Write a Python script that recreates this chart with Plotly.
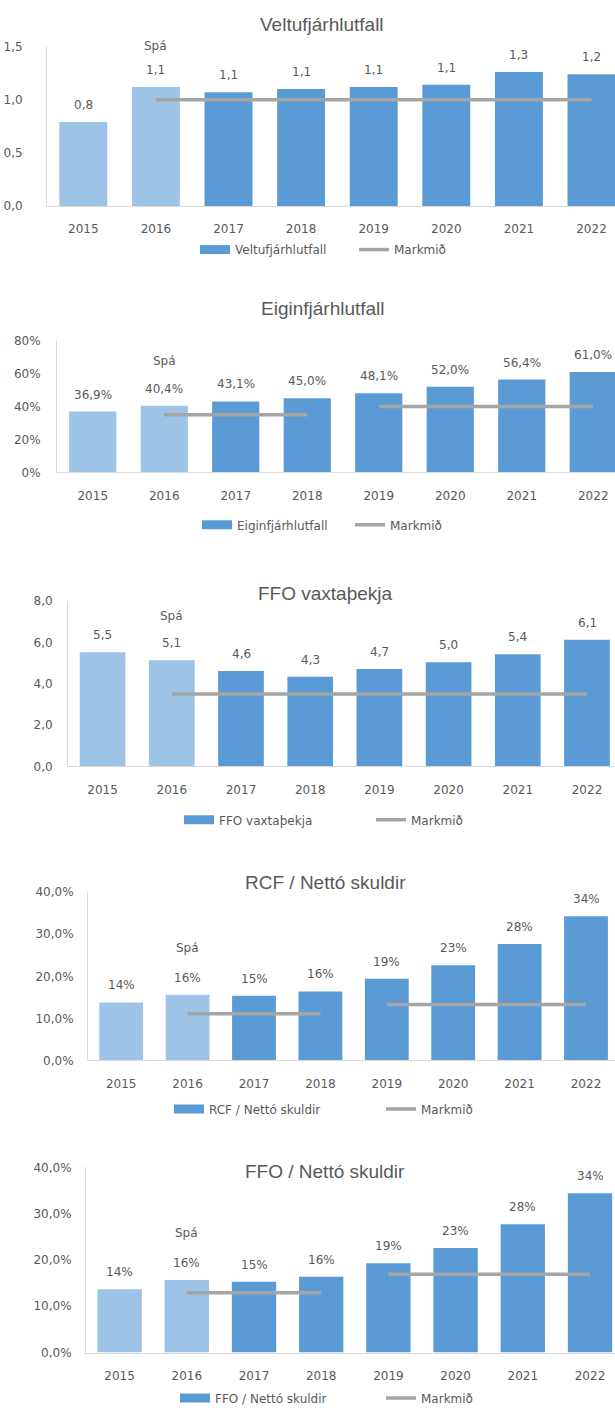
import plotly.graph_objects as go

# ---------------- data ----------------
years = ['2015', '2016', '2017', '2018', '2019', '2020', '2021', '2022']
n_actual = 2  # 2015-2016 drawn light

velt_vals = [0.79, 1.12, 1.07, 1.10, 1.12, 1.14, 1.26, 1.24]
velt_target = [('2016', '2022', 1.0)]

eigin_vals = [36.9, 40.4, 43.1, 45.0, 48.1, 52.0, 56.4, 61.0]
eigin_target = [('2016', '2018', 35.0), ('2019', '2022', 40.0)]

ffovax_vals = [5.52, 5.14, 4.62, 4.34, 4.71, 5.04, 5.43, 6.13]
ffovax_target = [('2016', '2022', 3.5)]

rcf_vals = [13.8, 15.6, 15.4, 16.4, 19.4, 22.6, 27.7, 34.3]
rcf_target = [('2016', '2018', 11.1), ('2019', '2022', 13.3)]

ffond_vals = [13.7, 15.7, 15.3, 16.4, 19.3, 22.6, 27.7, 34.4]
ffond_target = [('2016', '2018', 12.9), ('2019', '2022', 16.9)]

titles = ['Veltufjárhlutfall', 'Eiginfjárhlutfall', 'FFO vaxtaþekja',
          'RCF / Nettó skuldir', 'FFO / Nettó skuldir']
target_name = 'Markmið'
forecast_label = 'Spá'

# ---------------- style / layout ----------------
W, H = 615, 1414
LIGHT = '#9DC3E6'
DARK = '#5B9BD5'
GREY = '#A5A5A5'
TXT = '#595959'
AXC = '#D9D9D9'
FONT = 'DejaVu Sans'
TFONT = 'Liberation Sans, Arial, sans-serif'

charts = [
    dict(vals=velt_vals, target=velt_target, fmt='{:.1f}', suffix='', ymax=1.5, dtick=0.5,
         tickformat='.1f', axl=47, ytop=40, ybot=201, sp=72.6, ygap=21,
         title_xy=(322, 18), leg=(200, 359, 245), spa=41),
    dict(vals=eigin_vals, target=eigin_target, fmt='{:.1f}%', suffix='%', ymax=80, dtick=20,
         tickformat='.0f', axl=57, ytop=337, ybot=470, sp=71.5, ygap=13,
         title_xy=(323, 305), leg=(202, 355, 523), spa=45),
    dict(vals=ffovax_vals, target=ffovax_target, fmt='{:.1f}', suffix='', ymax=8, dtick=2,
         tickformat='.1f', axl=68, ytop=600, ybot=767, sp=69.2, ygap=12,
         title_xy=(325, 592), leg=(184, 376, 821), spa=44),
    dict(vals=rcf_vals, target=rcf_target, fmt='{:.0f}%', suffix='%', ymax=40, dtick=10,
         tickformat='.1f', axl=88, ytop=894, ybot=1064, sp=66.4, ygap=11,
         title_xy=(325, 884), leg=(174, 386, 1113), spa=47),
    dict(vals=ffond_vals, target=ffond_target, fmt='{:.0f}%', suffix='%', ymax=40, dtick=10,
         tickformat='.1f', axl=86, ytop=1172, ybot=1359, sp=67.2, ygap=11,
         title_xy=(325, 1176), leg=(180, 386, 1405), spa=47),
]

fig = go.Figure()
annotations = []
layout = {}

for i, c in enumerate(charts):
    k = i + 1
    xa = 'x' if k == 1 else f'x{k}'
    ya = 'y' if k == 1 else f'y{k}'
    lg_bar = f'legend{2 * i + 1}' if i > 0 else 'legend'
    lg_line = f'legend{2 * i + 2}'
    vals = c['vals']

    # light (2015-2016) bars
    fig.add_trace(go.Bar(x=years[:n_actual], y=vals[:n_actual], marker_color=LIGHT,
                         marker_line_width=0, showlegend=False, xaxis=xa, yaxis=ya,
                         hoverinfo='x+y'))
    # dark bars
    fig.add_trace(go.Bar(x=years[n_actual:], y=vals[n_actual:], marker_color=DARK,
                         marker_line_width=0, showlegend=False, xaxis=xa, yaxis=ya,
                         hoverinfo='x+y'))
    # legend entry for the bar series (wide rectangle look)
    fig.add_trace(go.Scatter(x=[None], y=[None], mode='lines', name=titles[i],
                             line=dict(color=DARK, width=9), xaxis=xa, yaxis=ya,
                             legend=lg_bar, showlegend=True))
    # target line segments
    tx, ty = [], []
    for (s, e, v) in c['target']:
        i0, i1 = years.index(s), years.index(e)
        if tx:
            tx.append(None)
            ty.append(None)
        for j in range(i0, i1 + 1):
            tx.append(years[j])
            ty.append(v)
    fig.add_trace(go.Scatter(x=tx, y=ty, mode='lines', name=target_name,
                             line=dict(color=GREY, width=3.5), xaxis=xa, yaxis=ya,
                             legend=lg_line, showlegend=True, connectgaps=False))

    # data labels (category axis -> use category index)
    for j, v in enumerate(vals):
        annotations.append(dict(x=j, y=v, xref=xa, yref=ya, text=c['fmt'].format(v).replace('.', ','),
                                showarrow=False, yanchor='middle', yshift=17,
                                font=dict(family=FONT, size=12, color=TXT)))
    annotations.append(dict(x=1, y=vals[1], xref=xa, yref=ya, text=forecast_label,
                            showarrow=False, yanchor='middle', yshift=c['spa'],
                            font=dict(family=FONT, size=12, color=TXT)))
    # chart title
    tx_, ty_ = c['title_xy']
    annotations.append(dict(x=tx_ / W, y=1 - ty_ / H, xref='paper', yref='paper', text=titles[i],
                            showarrow=False, xanchor='center', yanchor='middle',
                            font=dict(family=TFONT, size=19, color=TXT)))

    axl = c['axl']
    layout[('xaxis' if k == 1 else f'xaxis{k}')] = dict(
        domain=[axl / W, 1], range=[-0.5, -0.5 + (W - axl) / c['sp']],
        type='category', categoryorder='array', categoryarray=years,
        showline=True, linecolor=AXC, linewidth=1, showgrid=False, zeroline=False,
        ticks='outside', ticklen=12, tickcolor='rgba(0,0,0,0)',
        tickfont=dict(family=FONT, size=12, color=TXT), anchor=ya, fixedrange=True)
    layout[('yaxis' if k == 1 else f'yaxis{k}')] = dict(
        domain=[1 - c['ybot'] / H, 1 - c['ytop'] / H], range=[0, c['ymax']],
        dtick=c['dtick'], tick0=0, tickformat=c['tickformat'], ticksuffix=c['suffix'],
        showline=True, linecolor=AXC, linewidth=1, showgrid=False, zeroline=False,
        ticks='outside', ticklen=c['ygap'], tickcolor='rgba(0,0,0,0)',
        tickfont=dict(family=FONT, size=12, color=TXT), anchor=xa, fixedrange=True)

    bx, lx, ly = c['leg']
    for name, px in ((lg_bar, bx), (lg_line, lx)):
        layout[name] = dict(x=(px - 5) / W, y=1 - ly / H, xanchor='left', yanchor='middle',
                            orientation='h', bgcolor='rgba(0,0,0,0)', borderwidth=0,
                            font=dict(family=FONT, size=12, color=TXT))

fig.update_layout(
    width=W, height=H, margin=dict(l=0, r=0, t=0, b=0),
    paper_bgcolor='white', plot_bgcolor='white',
    barmode='overlay', bargap=0.34, separators=', ',
    annotations=annotations, **layout)

fig.write_html('out.html', config={'displayModeBar': False},
               post_script="document.body.style.margin='0';document.body.style.overflow='hidden';")
